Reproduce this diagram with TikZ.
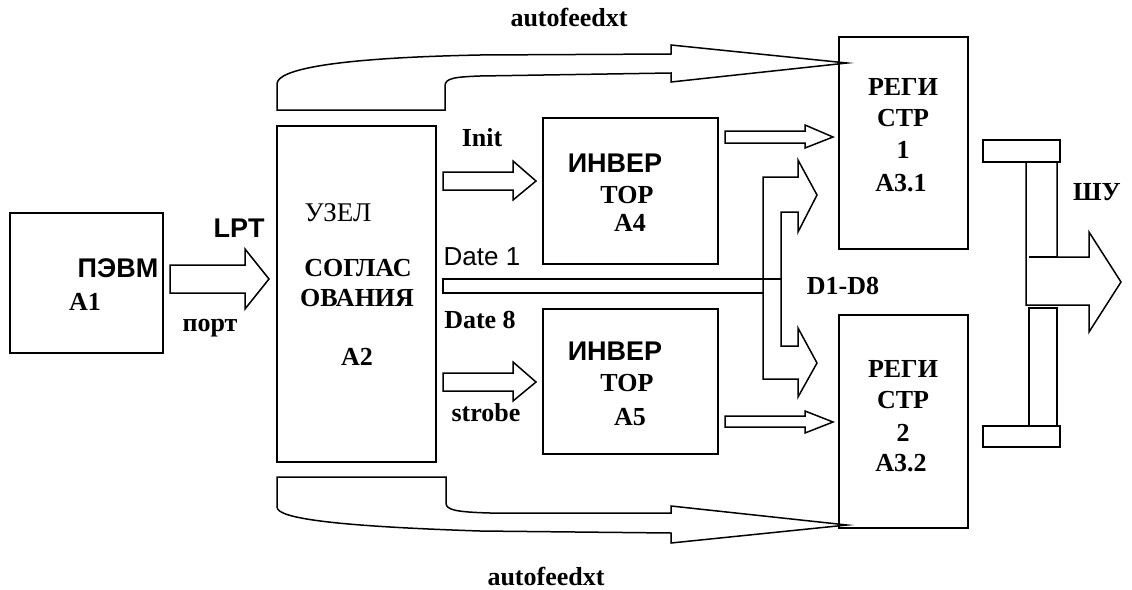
\documentclass[tikz,border=0pt]{standalone}
\usepackage{fontspec}
\setmainfont{Liberation Serif}
\setsansfont{Liberation Sans}
\usetikzlibrary{positioning}
\tikzset{
  blk/.style={draw, line width=1.6pt, inner sep=0pt},
  barr/.style={draw, line width=1.5pt, line join=miter},
  tb/.style={font=\fontsize{26}{28}\selectfont\bfseries, inner sep=0pt},
  sb/.style={font=\fontsize{27}{28}\selectfont\sffamily\bfseries, inner sep=0pt},
  tr/.style={font=\fontsize{27}{28}\selectfont, inner sep=0pt},
  sr/.style={font=\fontsize{26}{28}\selectfont\sffamily, inner sep=0pt},
}

\begin{document}
\begin{tikzpicture}[x=1pt,y=-1pt]
    \useasboundingbox (0,0) rectangle (1132,589);
    % blocks
    \node[blk, minimum width=153pt, minimum height=140pt] (pc) at (86.5,283) {};
    \node[blk, minimum width=159pt, minimum height=336pt] (uzel) at (356.5,294) {};
    \node[blk, minimum width=175pt, minimum height=146pt] (inv1) at (630.5,191) {};
    \node[blk, minimum width=175pt, minimum height=145pt] (inv2) at (630.5,381.5) {};
    \node[blk, minimum width=129pt, minimum height=212pt] (reg1) at (903.5,143) {};
    \node[blk, minimum width=129pt, minimum height=213pt] (reg2) at (903.5,421.5) {};
    % block texts
    \node[sb] (pcname) at (118,268) {ПЭВМ};
    \node[tb] (pcid) at (85,302) {A1};
    \node[tr] (uzel1) at (338,213) {УЗЕЛ};
    \node[tb] (uzel2) at (358,268) {СОГЛАС};
    \node[tb] (uzel3) at (357,298) {ОВАНИЯ};
    \node[tb] (uzelid) at (357,357) {A2};
    \node[sb] (inv1a) at (615,163) {ИНВЕР};
    \node[tb] (inv1b) at (627,195) {ТОР};
    \node[tb] (inv1id) at (630,223) {A4};
    \node[sb] (inv2a) at (615,351) {ИНВЕР};
    \node[tb] (inv2b) at (627,383) {ТОР};
    \node[tb] (inv2id) at (630,417) {A5};
    \node[tb] (reg1a) at (903,87) {РЕГИ};
    \node[tb] (reg1b) at (903,118) {СТР};
    \node[tb] (reg1c) at (903,150) {1};
    \node[tb] (reg1id) at (901,183) {A3.1};
    \node[tb] (reg2a) at (903,369) {РЕГИ};
    \node[tb] (reg2b) at (903,400) {СТР};
    \node[tb] (reg2c) at (903,433) {2};
    \node[tb] (reg2id) at (901,463) {A3.2};
    % signal labels
    \node[sb] (lpt) at (239,228) {LPT};
    \node[tb] (port) at (210,328) {порт};
    \node[tb] (init) at (482,138) {Init};
    \node[sr] (date1) at (482,257) {Date 1};
    \node[tb] (date8) at (480,320) {Date 8};
    \node[tb] (strobe) at (486,413) {strobe};
    \node[tb] (dbus) at (843,286) {D1-D8};
    \node[tb] (shu) at (1097,192) {ШУ};
    \node[tb] (feedtop) at (569,18) {autofeedxt};
    \node[tb] (feedbot) at (546,576) {autofeedxt};
    % LPT port
    \draw[barr] (170,265) -- (245,265) -- (245,249) -- (269,279) -- (245,309) -- (245,293) -- (170,293) -- cycle;
    % Init, strobe
    \draw[barr] (443,172) -- (513,172) -- (513,161) -- (536,181) -- (513,200) -- (513,190) -- (443,190) -- cycle;
    \draw[barr] (443,373) -- (513,373) -- (513,362) -- (536,382) -- (513,401) -- (513,391) -- (443,391) -- cycle;
    % inverters to registers
    \draw[barr] (725,131) -- (805,131) -- (805,125) -- (833,137) -- (805,148) -- (805,143) -- (725,143) -- cycle;
    \draw[barr] (725,416) -- (805,416) -- (805,411) -- (833,422) -- (805,433) -- (805,427) -- (725,427) -- cycle;
    % autofeedxt
    \draw[barr] (277,110) -- (277,84) .. controls (277,70) and (330,58) .. (480,55) -- (671,54)
      -- (671,45) -- (847,63) -- (671,82) -- (671,73) -- (480,76)
      .. controls (455,77) and (445,78) .. (445,86) -- (445,110) -- cycle;
    \draw[barr] (277,477) -- (446,477) -- (446,503) .. controls (446,510) and (456,512) .. (490,513)
      -- (671,513) -- (671,506) -- (847,525) -- (671,543) -- (671,533) -- (480,531)
      .. controls (330,526) and (277,518) .. (277,507) -- cycle;
    % data bus D1-D8
    \draw[barr] (781,279) -- (443,279) -- (443,293) -- (763,293);
    \draw[barr] (763,379) -- (763,177) -- (798,177) -- (798,160) -- (817,195) -- (798,232) -- (798,212)
      -- (781,212) -- (781,346) -- (798,346) -- (798,328) -- (817,363) -- (798,397) -- (798,379) -- cycle;
    % output bus
    \draw[barr] (983,140) rectangle (1060,162);
    \draw[barr] (983,426) rectangle (1060,447);
    \draw[barr] (1057,162) -- (1057,257) -- (1089,257) -- (1089,232) -- (1121,282) -- (1089,332)
      -- (1089,305) -- (1026,305) -- (1026,162);
    \draw[barr] (1029,257) -- (1057,257);
    \draw[barr] (1029,308) rectangle (1057,426);
\end{tikzpicture}
\end{document}
